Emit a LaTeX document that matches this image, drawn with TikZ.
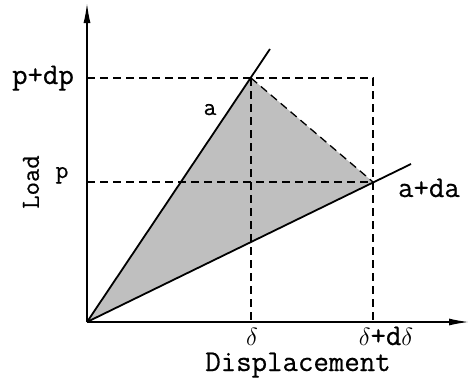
\documentclass[tikz,border=0pt]{standalone}
\usepackage{fontspec}
\setmonofont{Latin Modern Mono}[FakeBold=0.5]
\usetikzlibrary{arrows.meta}
\begin{document}
\begin{tikzpicture}[x=1pt,y=-1pt,
  axis/.style={line width=1.5pt,-{Latex[length=20pt,width=7pt]}},
  solidline/.style={line width=1.8pt},
  dashline/.style={line width=1.3pt,dash pattern=on 8pt off 5pt},
  lbl/.style={inner sep=0pt,font=\ttfamily\fontsize{30}{32}\selectfont},
  midlbl/.style={inner sep=0pt,font=\ttfamily\fontsize{26}{28}\selectfont},
  smalllbl/.style={inner sep=0pt,font=\ttfamily\fontsize{25}{27}\selectfont}]
\useasboundingbox (0,0) rectangle (469,383);
% key points
\coordinate (O) at (87,322);
\coordinate (A) at (251,78);
\coordinate (B) at (373,182);
\coordinate (Aend) at (270,49);
\coordinate (Bend) at (411,164);
\coordinate (ytop) at (87,3);
\coordinate (xend) at (469,322);
\coordinate (P1) at (87,78);
\coordinate (P2) at (87,182);
\coordinate (C) at (373,78);
\coordinate (D1) at (251,322);
\coordinate (D2) at (373,322);
% shaded triangle
\fill[black!25] (O) -- (A) -- (B) -- cycle;
% dashed guides
\draw[dashline] (P1) -- (C) -- (D2);
\draw[dashline] (P2) -- (B);
\draw[dashline] (A) -- (D1);
\draw[dashline] (A) -- (B);
% lines a and a+da
\draw[solidline] (O) -- (Aend);
\draw[solidline] (O) -- (Bend);
% axes
\draw[axis] (O) -- (ytop);
\draw[axis] (O) -- (xend);
% labels
\node[lbl,anchor=base] (lpdp) at (43,84) {p+dp};
\node[smalllbl,anchor=base] (lp) at (62,178) {p};
\node[midlbl,anchor=center,rotate=90] (lload) at (31,182) {Load};
\node[smalllbl,anchor=base] (la) at (210,115) {a};
\node[lbl,anchor=base] (lada) at (429,197) {a+da};
\node[lbl,anchor=base] (ld) at (252,345) {$\delta$};
\node[lbl,anchor=base] (ldd) at (386,345) {$\delta$+d$\delta$};
\node[lbl,anchor=base] (ldisp) at (298,371) {Displacement};
\end{tikzpicture}
\end{document}
